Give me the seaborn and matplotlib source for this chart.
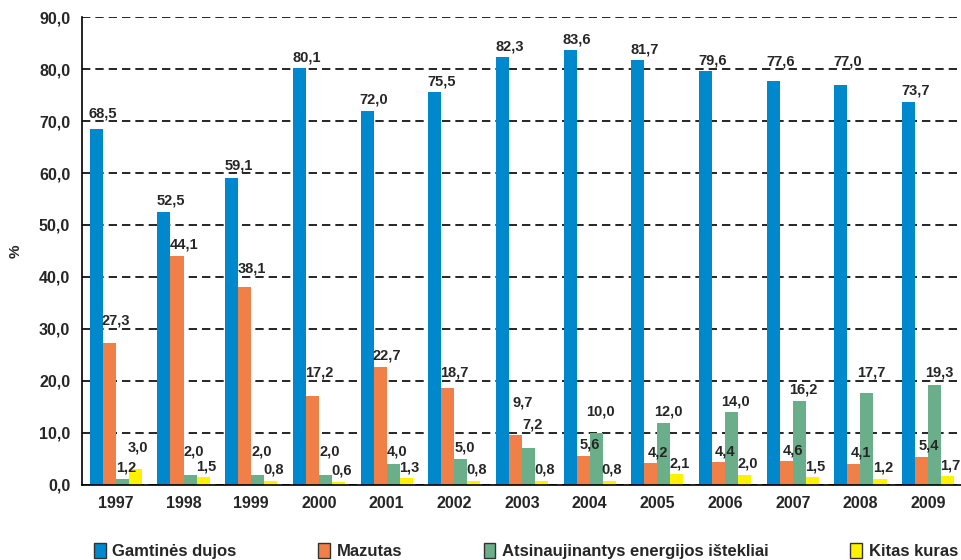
import numpy as np
import pandas as pd
import seaborn as sns
import matplotlib.pyplot as plt
from matplotlib.patches import Patch
from matplotlib.ticker import MultipleLocator, FixedLocator

years = ['1997', '1998', '1999', '2000', '2001', '2002', '2003',
         '2004', '2005', '2006', '2007', '2008', '2009']
series = ['Gamtinės dujos', 'Mazutas', 'Atsinaujinantys energijos ištekliai', 'Kitas kuras']
gas = [68.5, 52.5, 59.1, 80.1, 72.0, 75.5, 82.3, 83.6, 81.7, 79.6, 77.6, 77.0, 73.7]
mazut = [27.3, 44.1, 38.1, 17.2, 22.7, 18.7, 9.7, 5.6, 4.2, 4.4, 4.6, 4.1, 5.4]
renew = [1.2, 2.0, 2.0, 2.0, 4.0, 5.0, 7.2, 10.0, 12.0, 14.0, 16.2, 17.7, 19.3]
other = [3.0, 1.5, 0.8, 0.6, 1.3, 0.8, 0.8, 0.8, 2.1, 2.0, 1.5, 1.2, 1.7]
colors = ['#0088cc', '#f08048', '#6aaf8a', '#fff200']

df = pd.DataFrame({
    'year': years * 4,
    'value': gas + mazut + renew + other,
    'fuel': [s for s in series for _ in years],
})

sns.set_style('white')
plt.rcParams['font.family'] = ['Liberation Sans', 'DejaVu Sans']
plt.rcParams['font.weight'] = 'bold'

fig = plt.figure(figsize=(9.62, 5.6), dpi=100)
ax = fig.add_axes([0.0852, 0.134, 0.9148, 0.8356])

sns.barplot(data=df, x='year', y='value', hue='fuel', hue_order=series,
            palette=colors, width=0.77, gap=0, saturation=1, ax=ax, legend=False,
            linewidth=0, edgecolor='none')

ax.set_ylim(0, 90)
ax.set_xlim(-0.5, 12.5)
ax.yaxis.set_major_locator(MultipleLocator(10))
ax.set_yticklabels([f'{v:.1f}'.replace('.', ',') for v in ax.get_yticks()])
ax.grid(axis='y', color='black', linestyle=(0, (5, 3)), linewidth=1.2)
ax.set_axisbelow(True)
for s in ['top', 'right']:
    ax.spines[s].set_visible(False)
for s in ['left', 'bottom']:
    ax.spines[s].set_color('black')
    ax.spines[s].set_linewidth(1.2)

ax.tick_params(axis='y', length=5, width=1.2, color='black', labelsize=11.5, direction='out')
ax.tick_params(axis='x', which='major', length=0, labelsize=11.5, pad=8)
ax.xaxis.set_minor_locator(FixedLocator(np.arange(-0.5, 13, 1)))
ax.tick_params(axis='x', which='minor', length=6, width=1.2, color='black', direction='out')
for lbl in ax.get_xticklabels() + ax.get_yticklabels():
    lbl.set_fontweight('bold')

ax.set_xlabel('')
ax.set_ylabel('%', fontsize=11, fontweight='bold', labelpad=12)

# pixels per data unit on the y axis
ppu = ax.bbox.height / 90
glyph_h = 10.5


def label_lift(y):
    # baseline offset in px above y, moved off a gridline it would hit
    lo = 7
    for g in range(10, 91, 10):
        G = (g - y) * ppu
        if lo - 4 < G < lo + glyph_h + 2:
            down = G - 2 - glyph_h
            up = G + 4
            lo = down if down >= 4 and (lo - down) < (up - lo) else up
    return lo


# data labels, nudged like the hand-placed Excel labels
all_vals = [gas, mazut, renew, other]
x_shift = [5, 5, 3, 2]
for k, cont in enumerate(ax.containers):
    for i, bar in enumerate(cont):
        v = all_vals[k][i]
        y = v
        if k == 1 and renew[i] < mazut[i] < 12:
            y = mazut[i] + 4
        if k == 2:
            if renew[i] >= other[i]:
                y = max(v, 4.3)
            if renew[i] < mazut[i] < 12 or 0 < renew[i] - mazut[i] < 5:
                y = v + 2
        if k == 3 and other[i] > renew[i]:
            y = max(v, 5.0)
        ax.annotate(f'{v:.1f}'.replace('.', ','),
                    (bar.get_x() + bar.get_width() / 2, y),
                    xytext=(x_shift[k], label_lift(y) * 0.72), textcoords='offset points',
                    ha='center', va='baseline', fontsize=10.5, fontweight='bold')

handles = [Patch(facecolor=c, edgecolor='#333333', linewidth=1.0) for c in colors]
fig.legend(handles, series, loc='lower left', bbox_to_anchor=(0.082, -0.025),
           ncol=4, frameon=False, fontsize=12, handlelength=0.7, handleheight=1.0,
           handletextpad=0.4, columnspacing=4.9)

fig.savefig('out.png', dpi=100)
